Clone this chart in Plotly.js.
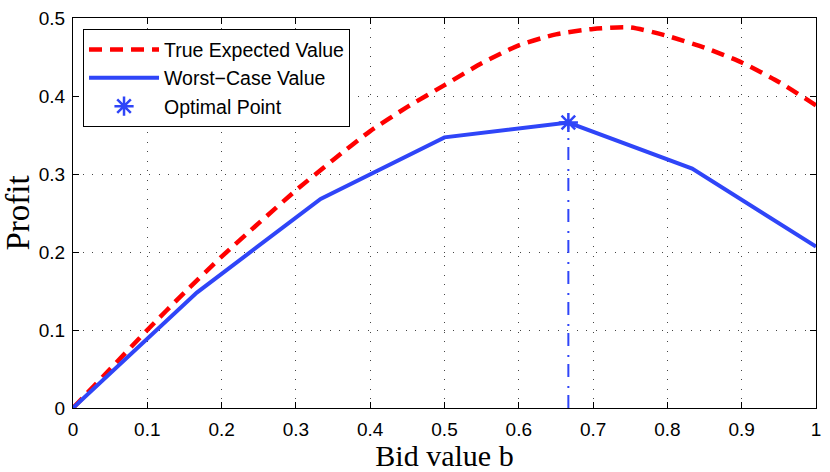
<!DOCTYPE html>
<html><head><meta charset="utf-8">
<script src="https://cdn.plot.ly/plotly-3.0.1.min.js"></script>
<style>html,body{margin:0;padding:0;background:#fff}#c{width:830px;height:472px}</style>
</head><body><div id="c"></div>
<script>
const bid = [0,0.05,0.1,0.15,0.2,0.25,0.3,0.35,0.4,0.45,0.5,0.55,0.6,0.65,0.7,0.75,0.8,0.85,0.9,0.95,1];
const trueExpected = [0,0.05,0.1,0.148,0.194,0.237,0.279,0.318,0.355,0.386,0.414,0.442,0.465,0.479,0.486,0.488,0.477,0.462,0.443,0.418,0.388];
const worstBid = [0,0.1667,0.3333,0.5,0.6667,0.8333,1];
const worstCase = [0,0.148,0.268,0.347,0.366,0.307,0.207];
const optBid = [0.6667];
const optValue = [0.366];
const xTicks = [0,0.1,0.2,0.3,0.4,0.5,0.6,0.7,0.8,0.9,1];
const xTickText = ["0","0.1","0.2","0.3","0.4","0.5","0.6","0.7","0.8","0.9","1"];
const yTicks = [0,0.1,0.2,0.3,0.4,0.5];
const yTickText = ["0","0.1","0.2","0.3","0.4","0.5"];

const blue = '#2f45f8';
const traces = [
  {x: bid, y: trueExpected, mode:'lines', name:'True Expected Value',
   line:{color:'#ff0000', width:4.5, dash:'13px,8px', shape:'spline', smoothing:0.6}},
  {x: worstBid, y: worstCase, mode:'lines', name:'Worst\u2212Case Value',
   line:{color:blue, width:4}},
  {x: [optBid[0], optBid[0]], y: [0, optValue[0]], mode:'lines', showlegend:false,
   line:{color:blue, width:2, dash:'13px,7px,2px,9px'}, hoverinfo:'skip'},
  {x: optBid, y: optValue, mode:'markers', name:'Optimal Point',
   marker:{symbol:'asterisk-open', size:16, color:blue, line:{color:blue, width:2.5}}}
];

const axisCommon = {
  showline:true, mirror:'ticks', linecolor:'#000', linewidth:1,
  ticks:'inside', ticklen:6, tickcolor:'#000',
  showgrid:true, gridcolor:'#444', griddash:'1px,8.5px', gridwidth:1,
  zeroline:false,
  tickfont:{family:'Liberation Sans, Arial, sans-serif', size:19, color:'#000'}
};

const layout = {
  width:830, height:472,
  margin:{l:73, r:14, t:18, b:64},
  paper_bgcolor:'#fff', plot_bgcolor:'#fff',
  xaxis: Object.assign({}, axisCommon, {
    range:[0,1], tickvals:xTicks, ticktext:xTickText, ticklabelstandoff:4,
    title:{text:'Bid value b', font:{family:'Liberation Serif, Times New Roman, serif', size:30, color:'#000'}, standoff:1}
  }),
  yaxis: Object.assign({}, axisCommon, {
    range:[0,0.5], tickvals:yTicks, ticktext:yTickText, ticklabelstandoff:3,
    title:{text:'Profit', font:{family:'Liberation Serif, Times New Roman, serif', size:33, color:'#000'}, standoff:5}
  }),
  legend:{x:0.0135, y:0.971, xanchor:'left', yanchor:'top',
    bgcolor:'#fff', bordercolor:'#000', borderwidth:1,
    font:{family:'Liberation Sans, Arial, sans-serif', size:19.5, color:'#000'},
    itemwidth:70, tracegroupgap:0},
  showlegend:true
};

Plotly.newPlot('c', traces, layout, {displayModeBar:false, staticPlot:true});
</script>
</body></html>
